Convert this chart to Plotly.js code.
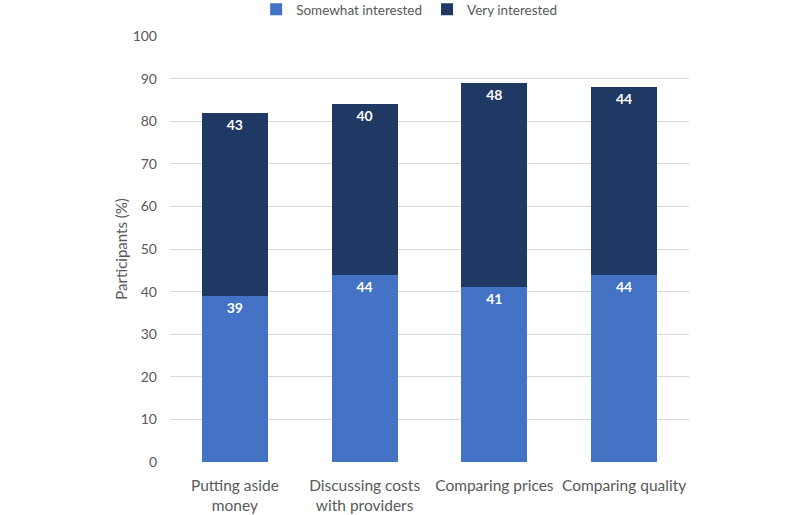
<!DOCTYPE html>
<html>
<head>
<meta charset="utf-8">
<script src="https://cdn.plot.ly/plotly-3.0.1.min.js"></script>
<style>html,body{margin:0;padding:0;background:#fff;}#chart{width:800px;height:515px;}</style>
</head>
<body>
<div id="chart"></div>
<script>
var categories = ["Putting aside<br>money", "Discussing costs<br>with providers", "Comparing prices", "Comparing quality"];
var somewhatInterested = [39, 44, 41, 44];
var veryInterested = [43, 40, 48, 44];
var yTicks = [0, 10, 20, 30, 40, 50, 60, 70, 80, 90, 100];

var fontFam = "Lato, Open Sans, sans-serif";
var traces = [
  {
    type: "bar", name: "Somewhat interested", x: categories, y: somewhatInterested,
    marker: {color: "#4472C4"},
    text: somewhatInterested.map(String), textposition: "inside", insidetextanchor: "end",
    textfont: {color: "#ffffff", size: 14, family: fontFam, weight: "bold"},
    hoverinfo: "none", cliponaxis: false
  },
  {
    type: "bar", name: "Very interested", x: categories, y: veryInterested,
    marker: {color: "#203864"},
    text: veryInterested.map(String), textposition: "inside", insidetextanchor: "end",
    textfont: {color: "#ffffff", size: 14, family: fontFam, weight: "bold"},
    hoverinfo: "none", cliponaxis: false
  }
];

var layout = {
  width: 800, height: 515,
  margin: {l: 170, r: 111, t: 36, b: 53, autoexpand: false},
  barmode: "stack", bargap: 0.49,
  paper_bgcolor: "#ffffff", plot_bgcolor: "#ffffff",
  font: {family: fontFam, color: "#595959", size: 15},
  showlegend: true,
  legend: {orientation: "h", x: 0.166, xanchor: "left", y: 1.062, yanchor: "middle",
           font: {size: 13.5, color: "#595959"}, traceorder: "normal", itemwidth: 30},
  xaxis: {tickfont: {size: 15.5, color: "#595959"}, showgrid: false, zeroline: false, showline: false,
          ticks: "", ticklabelstandoff: 12},
  yaxis: {range: [0, 100], tickvals: yTicks, ticktext: yTicks.map(String),
          showgrid: true, gridcolor: "#d9d9d9", gridwidth: 1, zeroline: false,
          showline: false, ticks: "", tickfont: {size: 14, color: "#595959"}, ticklabelstandoff: 12,
          title: {text: "Participants (%)", font: {size: 15, color: "#595959"}, standoff: 1},
          fixedrange: true}
};

Plotly.newPlot("chart", traces, layout, {displayModeBar: false, staticPlot: true});
</script>
</body>
</html>
